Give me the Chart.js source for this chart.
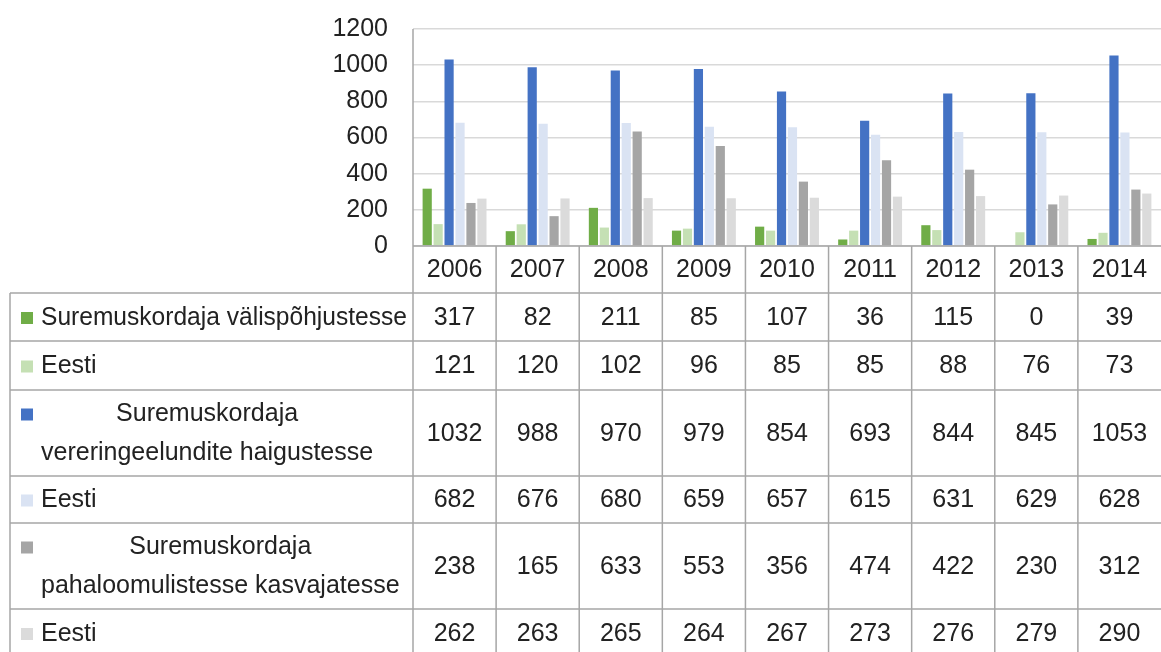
<!DOCTYPE html>
<html>
<head>
<meta charset="utf-8">
<script src="https://cdn.jsdelivr.net/npm/chart.js@4/dist/chart.umd.min.js"></script>
<style>
  html, body { margin: 0; padding: 0; background: #fff; }
  canvas { display: block; }
</style>
</head>
<body>
<canvas id="chart" width="1161" height="652"></canvas>
<script>
// Andmed
const years = ['2006', '2007', '2008', '2009', '2010', '2011', '2012', '2013', '2014'];
const yTicks = [0, 200, 400, 600, 800, 1000, 1200];

const seriesLabels = [
    ['Suremuskordaja välispõhjustesse'],
    ['Eesti'],
    ['Suremuskordaja', 'vereringeelundite haigustesse'],
    ['Eesti'],
    ['Suremuskordaja', 'pahaloomulistesse kasvajatesse'],
    ['Eesti']
];

const valisPohjused = [317, 82, 211, 85, 107, 36, 115, 0, 39];
const valisEesti = [121, 120, 102, 96, 85, 85, 88, 76, 73];
const vereringe = [1032, 988, 970, 979, 854, 693, 844, 845, 1053];
const vereringeEesti = [682, 676, 680, 659, 657, 615, 631, 629, 628];
const kasvajad = [238, 165, 633, 553, 356, 474, 422, 230, 312];
const kasvajadEesti = [262, 263, 265, 264, 267, 273, 276, 279, 290];

const seriesColors = ['#70ad47', '#c5e0b4', '#4472c4', '#dae3f3', '#a5a5a5', '#dbdbdb'];
const seriesData = [valisPohjused, valisEesti, vereringe, vereringeEesti, kasvajad, kasvajadEesti];

// Tabeli paigutus
const FONT = '25px "Liberation Sans", Arial, sans-serif';
const TEXT_COLOR = '#222222';
const LINE_COLOR = '#a6a6a6';
const tableLeft = 10;
const plotLeft = 413;
const yearRowBottom = 293;
const rowHeights = [48, 49, 86, 47, 86, 48];
const labelX = 41;

const dataTablePlugin = {
    id: 'dataTable',
    afterDraw(chart) {
        const ctx = chart.ctx;
        const xs = chart.scales.x;
        const area = chart.chartArea;
        const cw = xs.getPixelForValue(1) - xs.getPixelForValue(0);
        const right = chart.width;

        ctx.save();
        ctx.strokeStyle = LINE_COLOR;
        ctx.lineWidth = 1.5;

        // Rea piirid
        const rowTops = [];
        let y = yearRowBottom;
        rowHeights.forEach(h => { rowTops.push(y); y += h; });
        const tableBottom = y;

        ctx.beginPath();
        ctx.moveTo(plotLeft, area.bottom);
        ctx.lineTo(right, area.bottom);
        rowTops.forEach(t => {
            ctx.moveTo(tableLeft, t);
            ctx.lineTo(right, t);
        });
        // Vertikaalsed jooned
        ctx.moveTo(tableLeft, yearRowBottom);
        ctx.lineTo(tableLeft, tableBottom);
        ctx.moveTo(plotLeft, area.top);
        ctx.lineTo(plotLeft, tableBottom);
        for (let i = 1; i < years.length; i++) {
            const x = xs.getPixelForValue(i) - cw / 2;
            ctx.moveTo(x, area.bottom);
            ctx.lineTo(x, tableBottom);
        }
        ctx.stroke();

        ctx.font = FONT;
        ctx.fillStyle = TEXT_COLOR;
        ctx.textBaseline = 'middle';

        // Aastad
        ctx.textAlign = 'center';
        const yearMid = (area.bottom + yearRowBottom) / 2 + 1;
        years.forEach((yr, i) => {
            ctx.fillText(yr, xs.getPixelForValue(i), yearMid);
        });

        // Read
        seriesLabels.forEach((lines, r) => {
            const top = rowTops[r];
            const mid = top + rowHeights[r] / 2 + 1;
            const lineGap = 39;
            const firstY = lines.length > 1 ? mid - lineGap / 2 : mid;

            // Legendi ruut
            ctx.fillStyle = seriesColors[r];
            ctx.fillRect(21, firstY - 6, 12, 12);

            ctx.fillStyle = TEXT_COLOR;
            if (lines.length === 1) {
                ctx.textAlign = 'left';
                ctx.fillText(lines[0], labelX, mid, plotLeft - labelX - 6);
            } else {
                const w2 = Math.min(ctx.measureText(lines[1]).width, plotLeft - labelX - 6);
                const center = labelX + w2 / 2;
                ctx.textAlign = 'center';
                ctx.fillText(lines[0], center, firstY);
                ctx.textAlign = 'left';
                ctx.fillText(lines[1], labelX, firstY + lineGap, plotLeft - labelX - 6);
            }

            ctx.textAlign = 'center';
            seriesData[r].forEach((v, i) => {
                ctx.fillText(String(v), xs.getPixelForValue(i), mid);
            });
        });

        ctx.restore();
    }
};

new Chart(document.getElementById('chart').getContext('2d'), {
    type: 'bar',
    data: {
        labels: years,
        datasets: seriesData.map((d, i) => ({
            label: seriesLabels[i].join(' '),
            data: d,
            backgroundColor: seriesColors[i],
            borderWidth: 0,
            categoryPercentage: 0.79,
            barPercentage: 0.84
        }))
    },
    options: {
        responsive: false,
        animation: false,
        layout: {
            padding: { top: 29, bottom: 406, left: 0, right: 0 }
        },
        plugins: {
            legend: { display: false },
            tooltip: { enabled: false }
        },
        scales: {
            x: {
                display: false
            },
            y: {
                min: 0,
                max: 1200,
                afterFit(scale) {
                    scale.width = plotLeft;
                    scale.paddingTop = 0;
                    scale.paddingBottom = 0;
                },
                afterBuildTicks(scale) { scale.ticks = yTicks.map(v => ({ value: v })); },
                ticks: {
                    padding: 25,
                    color: TEXT_COLOR,
                    font: { family: '"Liberation Sans", Arial, sans-serif', size: 25 },
                    callback: v => String(v)
                },
                grid: {
                    color: '#d9d9d9',
                    lineWidth: 1.5,
                    drawTicks: false
                },
                border: { display: false }
            }
        }
    },
    plugins: [dataTablePlugin]
});
</script>
</body>
</html>
